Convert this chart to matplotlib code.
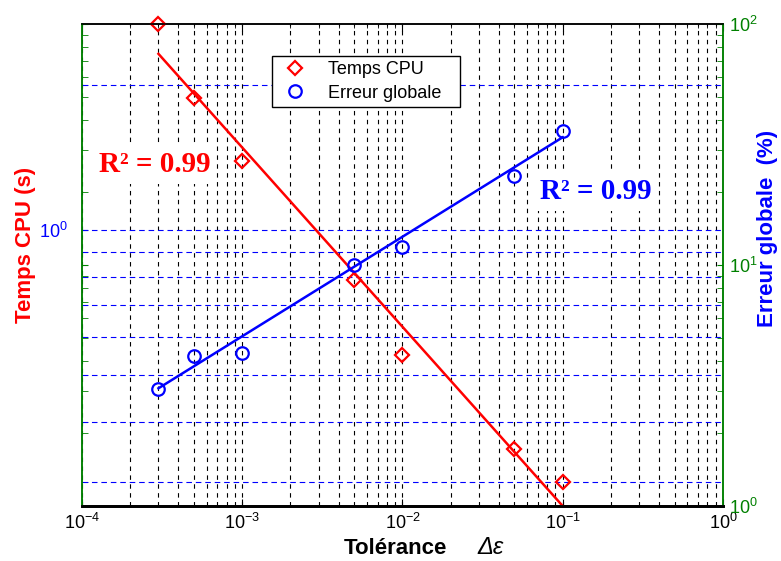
import numpy as np
import matplotlib
matplotlib.use("Agg")
import matplotlib.pyplot as plt
from matplotlib.ticker import NullFormatter, LogLocator

plt.rcParams["font.family"] = ["Liberation Sans", "DejaVu Sans"]
plt.rcParams["mathtext.fontset"] = "custom"
plt.rcParams["mathtext.rm"] = "Liberation Sans"
plt.rcParams["mathtext.it"] = "Liberation Sans:italic"
plt.rcParams["mathtext.bf"] = "Liberation Sans:bold"
plt.rcParams["axes.unicode_minus"] = False

# data
tolerance = [3e-4, 5e-4, 1e-3, 5e-3, 1e-2, 5e-2, 1e-1]
temps_cpu = [2.68, 1.875, 1.39, 0.79, 0.551, 0.351, 0.300]
erreur_globale = [3.05, 4.19, 4.33, 10.0, 11.9, 23.4, 36.0]

# power-law fits (end points)
fit_x = [3e-4, 1e-1]
fit_cpu = [2.32, 0.268]
fit_err = [3.08, 33.9]
r2_cpu = 0.99
r2_err = 0.99

RED = "#ff0000"
BLUE = "#0000ff"
GREEN = "#008000"

fig = plt.figure(figsize=(7.81, 5.61), dpi=100)
ax = fig.add_axes([0.105, 0.098, 0.8207, 0.8592])
ax2 = ax.twinx()

# left axis: CPU time
ax.set_xscale("log")
ax.set_yscale("log")
ax.set_xlim(1e-4, 1)
ax.set_ylim(0.268, 2.675)
ax.plot(fit_x, fit_cpu, color=RED, lw=1.8, zorder=3)
h_cpu, = ax.plot(tolerance, temps_cpu, ls="none", marker="D", ms=7.5, mfc="none",
                 mec=RED, mew=1.6, label="Temps CPU", clip_on=False, zorder=4)

# right axis: global error
ax2.set_yscale("log")
ax2.set_ylim(1, 100)
ax2.plot(fit_x, fit_err, color=BLUE, lw=1.8, zorder=3)
h_err, = ax2.plot(tolerance, erreur_globale, ls="none", marker="o", ms=9, mfc="none",
                  mec=BLUE, mew=1.6, label="Erreur globale", zorder=4)

# ticks
ax.set_yticks([1])
ax.set_yticklabels([r"$10^{0}$"])
ax.set_yticks([0.3, 0.4, 0.5, 0.6, 0.7, 0.8, 0.9, 2], minor=True)
ax.yaxis.set_minor_formatter(NullFormatter())
ax.tick_params(axis="y", which="both", colors=BLUE, direction="in",
               length=4, pad=10, labelsize=13)
ax.tick_params(axis="x", which="both", direction="in", top=True,
               colors="k", labelsize=13, pad=5)
ax.tick_params(axis="x", which="major", length=5)
ax.tick_params(axis="x", which="minor", length=3)
ax.xaxis.set_major_locator(LogLocator(base=10, numticks=10))
ax.xaxis.set_minor_formatter(NullFormatter())

ax2.yaxis.set_minor_formatter(NullFormatter())
ax2.tick_params(axis="y", which="both", colors=GREEN, direction="in",
                left=True, right=True, labelleft=False, labelright=True,
                length=4, pad=4, labelsize=13)

# grid (set after the ticks so every tick line picks it up)
ax.xaxis.grid(True, which="both", color="k", ls=(0, (4, 4)), lw=0.8)
ax.yaxis.grid(True, which="both", color=BLUE, ls=(0, (5, 3.5)), lw=0.8)

# spines
for a in (ax, ax2):
    a.spines["left"].set_color(GREEN)
    a.spines["right"].set_color(GREEN)
    a.spines["top"].set_color("k")
    a.spines["bottom"].set_color("k")
    a.spines["bottom"].set_linewidth(2)
    a.spines["left"].set_linewidth(1.1)
    a.spines["right"].set_linewidth(1.1)
    a.spines["top"].set_linewidth(1.1)

# labels
ax.set_ylabel("Temps CPU (s)", color=RED, fontsize=16, fontweight="bold")
ax.yaxis.set_label_coords(-0.072, 0.5415)
ax2.set_ylabel("Erreur globale  (%)", color=BLUE, fontsize=16, fontweight="bold")
ax2.yaxis.set_label_coords(1.053, 0.5757)
ax.set_xlabel("Tolérance", fontsize=16, fontweight="bold")
ax.xaxis.set_label_coords(0.489, -0.066)
ax.annotate("Δε", xy=(1, 0), xycoords=ax.xaxis.label, xytext=(30, 0),
            textcoords="offset pixels", ha="left", va="bottom",
            fontsize=17, fontstyle="italic")

# R^2 annotations
ax.text(0.114, 0.708, f"R² = {r2_cpu:.2f}", transform=ax.transAxes, ha="center",
        va="center", color=RED, fontsize=21, fontweight="bold",
        family="Liberation Serif", zorder=5,
        bbox=dict(facecolor="white", edgecolor="none", pad=4))
ax.text(0.801, 0.652, f"R² = {r2_err:.2f}", transform=ax.transAxes, ha="center",
        va="center", color=BLUE, fontsize=21, fontweight="bold",
        family="Liberation Serif", zorder=5,
        bbox=dict(facecolor="white", edgecolor="none", pad=4))

leg = ax2.legend(handles=[h_cpu, h_err], loc="upper left",
                 bbox_to_anchor=(0.296, 0.828, 0.294, 0.1056), mode="expand",
                 borderaxespad=0, fancybox=False, edgecolor="k", framealpha=1,
                 fontsize=13, handlelength=2, handletextpad=0.8,
                 borderpad=0.3, labelspacing=0.35)
leg.get_frame().set_linewidth(1)

fig.savefig("out.png", dpi=100, facecolor="white")
